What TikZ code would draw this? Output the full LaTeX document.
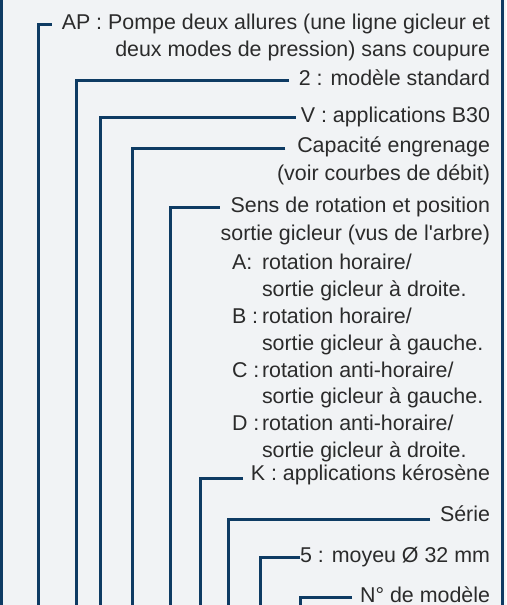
\documentclass[tikz,border=0pt]{standalone}
\usepackage{fontspec}
\newfontfamily\libsans{Liberation Sans}
\definecolor{navy}{HTML}{0E3B63}
\definecolor{bgc}{HTML}{F1F3F5}
\definecolor{txt}{HTML}{2B2B2B}
\begin{document}
\begin{tikzpicture}[x=1pt,y=-1pt,
  lbl/.style={inner sep=0pt, outer sep=0pt, text=txt, font=\libsans\fontsize{21.4}{26.8}\selectfont},
  rlbl/.style={lbl, anchor=base east},
  llbl/.style={lbl, anchor=base west},
  conn/.style={draw=navy, line width=3pt},
  framel/.style={draw=navy, line width=3pt}]
\fill[bgc] (0,0) rectangle (506,605);
\useasboundingbox (0,0) rectangle (506,605);
% frame sides
\coordinate (ftl) at (1.5,-2);
\coordinate (fbl) at (1.5,607);
\coordinate (ftr) at (502,-2);
\coordinate (fbr) at (502,607);
\draw[framel] (ftl) -- (fbl);
\draw[framel] (ftr) -- (fbr);
% right-aligned labels
\node[rlbl] (ap) at (490,29) {AP : Pompe deux allures (une ligne gicleur et};
\node[rlbl] (ap2) at (490,56) {deux modes de pression) sans coupure};
\node[rlbl] (std) at (490,85) {2 : modèle standard};
\node[rlbl] (v) at (490,122) {V : applications B30};
\node[rlbl] (cap) at (490,152) {Capacité engrenage};
\node[rlbl] (cap2) at (490,180) {(voir courbes de débit)};
\node[rlbl] (sens) at (490,212) {Sens de rotation et position};
\node[rlbl] (sens2) at (490,240) {sortie gicleur (vus de l'arbre)};
% list
\node[llbl] (la) at (232,269) {A:};
\node[llbl] (ta1) at (262,269) {rotation horaire/};
\node[llbl] (ta2) at (262,296) {sortie gicleur à droite.};
\node[llbl] (lb) at (232,323) {B :};
\node[llbl] (tb1) at (262,323) {rotation horaire/};
\node[llbl] (tb2) at (262,350) {sortie gicleur à gauche.};
\node[llbl] (lc) at (232,377) {C :};
\node[llbl] (tc1) at (262,377) {rotation anti-horaire/};
\node[llbl] (tc2) at (262,403) {sortie gicleur à gauche.};
\node[llbl] (ld) at (232,430) {D :};
\node[llbl] (td1) at (262,430) {rotation anti-horaire/};
\node[llbl] (td2) at (262,457) {sortie gicleur à droite.};
\node[rlbl] (k) at (490,480) {K : applications kérosène};
\node[rlbl] (serie) at (490,521) {Série};
\node[rlbl] (moy) at (490,562) {5 : moyeu Ø 32 mm};
\node[rlbl] (num) at (490,602) {N° de modèle};
% bottom ends of connectors
\coordinate (bap) at (38,607);
\coordinate (bstd) at (76,607);
\coordinate (bv) at (100,607);
\coordinate (bcap) at (132,607);
\coordinate (bsens) at (170,607);
\coordinate (bk) at (200,607);
\coordinate (bserie) at (228,607);
\coordinate (bmoy) at (260,607);
\coordinate (bnum) at (300,607);
% connectors
\draw[conn] ([xshift=-10pt,yshift=5pt]ap.base west) -| (bap);
\draw[conn] ([xshift=-10pt,yshift=5pt]std.base west) -| (bstd);
\draw[conn] ([xshift=-5pt,yshift=5pt]v.base west) -| (bv);
\draw[conn] ([xshift=-12pt,yshift=4pt]cap.base west) -| (bcap);
\draw[conn] ([xshift=-11pt,yshift=5pt]sens.base west) -| (bsens);
\draw[conn] ([xshift=-8pt,yshift=2pt]k.base west) -| (bk);
\draw[conn] ([xshift=-10pt,yshift=2pt]serie.base west) -| (bserie);
\draw[conn] ([xshift=0pt,yshift=5pt]moy.base west) -| (bmoy);
\draw[conn] ([xshift=-8pt,yshift=5pt]num.base west) -| (bnum);
\end{tikzpicture}
\end{document}
